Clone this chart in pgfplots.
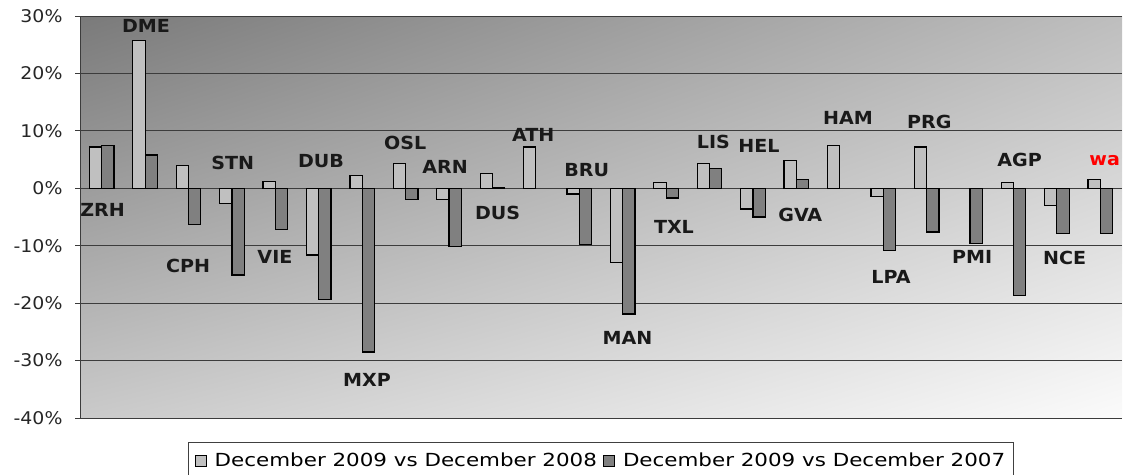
\documentclass[border=0pt]{standalone}
\usepackage{pgfplots}
\pgfplotsset{compat=1.18}
\usetikzlibrary{shadings}
\usepackage{fontspec}
\setmainfont{DejaVu Sans}
\newfontfamily\lblfont[FakeStretch=1.06]{DejaVu Sans}
\newfontfamily\tickfont[FakeStretch=1.08]{DejaVu Sans}
\newfontfamily\legfont[FakeStretch=1.19]{DejaVu Sans}
\definecolor{cul}{RGB}{122,122,122}
\definecolor{cur}{RGB}{190,190,190}
\definecolor{cll}{RGB}{202,202,202}
\definecolor{clr}{RGB}{251,251,251}
\definecolor{barlight}{RGB}{192,192,192}
\definecolor{bardark}{RGB}{128,128,128}
\definecolor{gridc}{RGB}{60,60,60}
\begin{document}
\begin{tikzpicture}
\begin{axis}[
  scale only axis, width=1042pt, height=402pt,
  xmin=-0.5, xmax=23.5, ymin=-40, ymax=30,
  ybar=0pt, bar width=12.3pt,
  axis x line=none, axis y line*=left,
  axis line style={draw=gridc, line width=1pt},
  ytick={-40,-30,-20,-10,0,10,20,30},
  yticklabels={-40\%,-30\%,-20\%,-10\%,0\%,10\%,20\%,30\%},
  yticklabel style={font=\tickfont\fontsize{17.5}{20}\selectfont, text=black!85, xshift=-9pt},
  tick align=outside, major tick length=5pt,
  tick style={draw=gridc, line width=1pt},
  ymajorgrids, grid style={draw=gridc, line width=0.9pt},
  axis background/.style={shade, upper left=cul, upper right=cur, lower left=cll, lower right=clr},
  clip=false,
  legend style={at={(0.5,-0.059)}, anchor=north, legend columns=2,
    draw=black!75, line width=1pt, fill=white,
    font=\legfont\fontsize{18}{21}\selectfont,
    inner xsep=6pt, inner ysep=9pt,
    /tikz/every odd column/.append style={column sep=6pt},
    /tikz/every even column/.append style={column sep=4pt}},
  legend image code/.code={\draw[#1, draw=black, line width=1pt] (0pt,-5.5pt) rectangle (11pt,5.5pt);},
]
\addplot[fill=barlight, draw=black, line width=1.2pt] coordinates {
 (0,7.2) (1,25.7) (2,3.9) (3,-2.6) (4,1.25) (5,-11.6) (6,2.2) (7,4.3) (8,-2.0) (9,2.6)
 (10,7.2) (11,-1.0) (12,-12.9) (13,0.95) (14,4.3) (15,-3.6) (16,4.8) (17,7.5) (18,-1.4) (19,7.2)
 (20,nan) (21,0.95) (22,-3.05) (23,1.6)};
\addplot[fill=bardark, draw=black, line width=1.2pt] coordinates {
 (0,7.45) (1,5.8) (2,-6.3) (3,-15.1) (4,-7.2) (5,-19.4) (6,-28.5) (7,-2.0) (8,-10.2) (9,0.2)
 (10,nan) (11,-9.8) (12,-21.9) (13,-1.7) (14,3.5) (15,-5.0) (16,1.6) (17,nan) (18,-10.9) (19,-7.6)
 (20,-9.6) (21,-18.7) (22,-7.9) (23,-7.9)};
\legend{December 2009 vs December 2008, December 2009 vs December 2007}
\begin{scope}[every node/.style={font=\lblfont\bfseries\fontsize{18}{20}\selectfont, text=black!90, inner sep=0pt}]
\node at (axis cs:0.02,-3.7) {ZRH};
\node at (axis cs:1.02,28.3) {DME};
\node at (axis cs:1.99,-13.6) {CPH};
\node at (axis cs:3.02,4.5) {STN};
\node at (axis cs:3.99,-11.9) {VIE};
\node at (axis cs:5.05,4.7) {DUB};
\node at (axis cs:6.11,-33.3) {MXP};
\node at (axis cs:6.99,7.9) {OSL};
\node at (axis cs:7.91,3.8) {ARN};
\node at (axis cs:9.12,-4.3) {DUS};
\node at (axis cs:9.94,9.3) {ATH};
\node at (axis cs:11.17,3.1) {BRU};
\node at (axis cs:12.11,-26.1) {MAN};
\node at (axis cs:13.18,-6.65) {TXL};
\node at (axis cs:14.09,8.0) {LIS};
\node at (axis cs:15.14,7.4) {HEL};
\node at (axis cs:16.09,-4.6) {GVA};
\node at (axis cs:17.19,12.3) {HAM};
\node at (axis cs:18.18,-15.5) {LPA};
\node at (axis cs:19.06,11.6) {PRG};
\node at (axis cs:20.05,-11.9) {PMI};
\node at (axis cs:21.14,5.0) {AGP};
\node at (axis cs:22.18,-12.2) {NCE};
\node[text=red] at (axis cs:23.1,4.8) {wa};
\end{scope}
\end{axis}
\pgfresetboundingbox
\path[use as bounding box] ([xshift=-80pt,yshift=-56pt]current axis.south west) rectangle ([xshift=1pt,yshift=16pt]current axis.north east);
\end{tikzpicture}
\end{document}
